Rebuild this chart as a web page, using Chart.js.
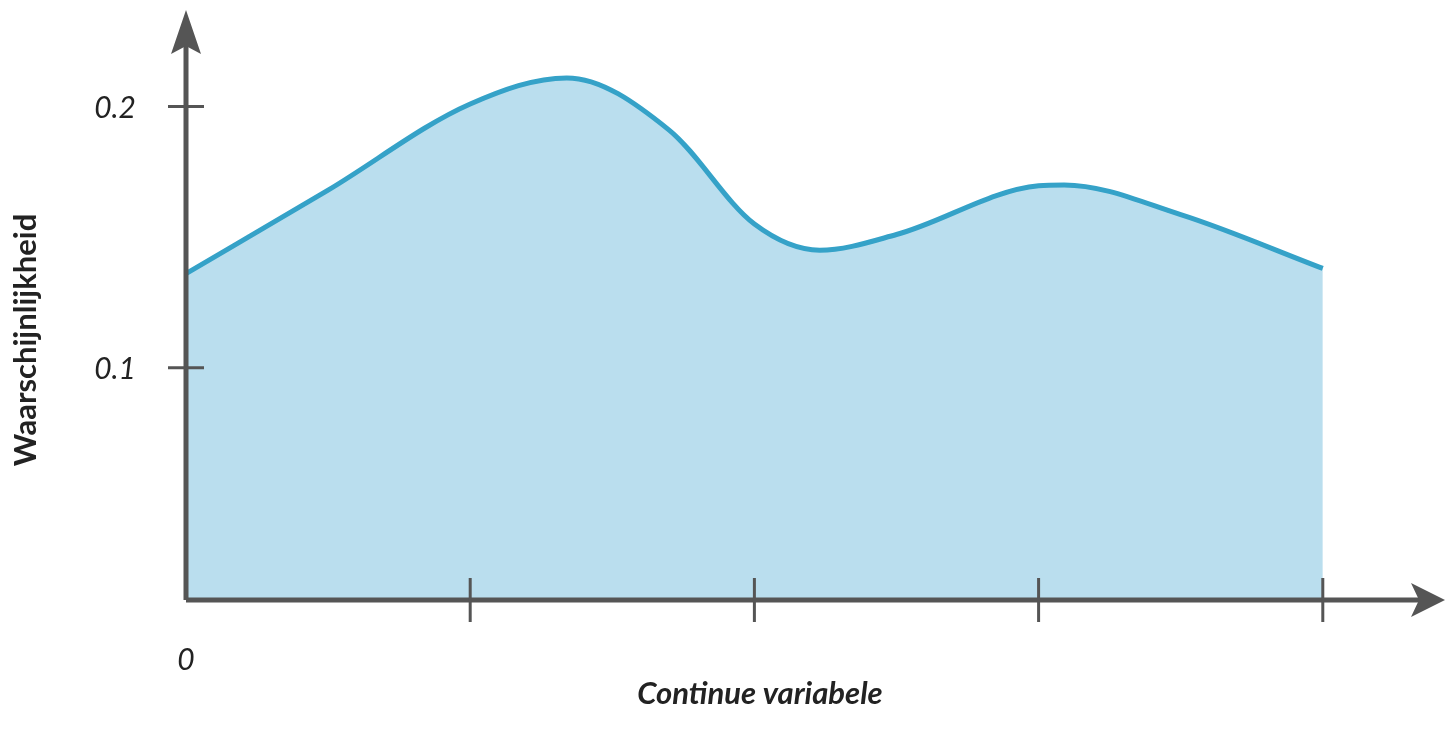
<!DOCTYPE html>
<html>
<head>
<meta charset="utf-8">
<script src="https://cdn.jsdelivr.net/npm/chart.js@4"></script>
<style>
  html, body { margin: 0; padding: 0; background: #fff; }
  #wrap { width: 1453px; height: 736px; }
</style>
</head>
<body>
<div id="wrap"><canvas id="dens"></canvas></div>
<script>
// curve (x in tick units, y = probability)
const xVals = [0, 0.5, 1, 1.34, 1.7, 2, 2.23, 2.5, 3, 3.09, 3.5, 4];
const yVals = [0.136, 0.168, 0.201, 0.211, 0.191, 0.155, 0.145, 0.151, 0.1697, 0.170, 0.1586, 0.138];
const xTicks = [1, 2, 3, 4];
const yTicks = [0.1, 0.2];
const yTickLabels = ['0.1', '0.2'];

const axisColor = '#555555';

const axesPlugin = {
  id: 'axes',
  afterDraw(chart) {
    const c = chart.ctx, xs = chart.scales.x, ys = chart.scales.y;
    const x0 = xs.getPixelForValue(0), yb = ys.getPixelForValue(ys.min);
    const xr = xs.right, yt = ys.top;
    c.save();
    c.strokeStyle = axisColor; c.fillStyle = axisColor; c.lineWidth = 5;
    // axes
    c.beginPath(); c.moveTo(x0, yb); c.lineTo(xr - 20, yb); c.stroke();
    c.beginPath(); c.moveTo(x0, yb); c.lineTo(x0, yt + 20); c.stroke();
    // arrows
    c.beginPath(); c.moveTo(xr, yb); c.lineTo(xr - 34, yb - 17); c.lineTo(xr - 26, yb); c.lineTo(xr - 34, yb + 17); c.closePath(); c.fill();
    c.beginPath(); c.moveTo(x0, yt); c.lineTo(x0 - 15, yt + 44); c.lineTo(x0, yt + 36); c.lineTo(x0 + 15, yt + 44); c.closePath(); c.fill();
    c.lineWidth = 3;
    xTicks.forEach(v => {
      const p = xs.getPixelForValue(v);
      c.beginPath(); c.moveTo(p, yb - 22); c.lineTo(p, yb + 22); c.stroke();
    });
    c.font = 'italic 30px Lato';
    c.fillStyle = '#222';
    c.textAlign = 'right'; c.textBaseline = 'middle';
    yTicks.forEach((v, i) => {
      const p = ys.getPixelForValue(v);
      c.beginPath(); c.moveTo(x0 - 18, p); c.lineTo(x0 + 18, p); c.stroke();
      c.fillText(yTickLabels[i], x0 - 50, p + 2);
    });
    c.textAlign = 'center';
    c.fillText('0', x0, 660);
    c.font = 'bold italic 31px Lato';
    c.fillText('Continue variabele', 760, 694);
    c.save();
    c.translate(26, 340); c.rotate(-Math.PI / 2);
    c.font = 'bold 31px Lato';
    c.fillText('Waarschijnlijkheid', 0, 0);
    c.restore();
    c.restore();
  }
};

new Chart(document.getElementById('dens'), {
  type: 'scatter',
  data: {
    datasets: [{
      data: xVals.map((x, i) => ({ x: x, y: yVals[i] })),
      showLine: true,
      tension: 0.4,
      cubicInterpolationMode: 'monotone',
      borderColor: '#35a2c8',
      borderWidth: 5,
      backgroundColor: 'rgba(167,213,233,0.78)',
      fill: 'start',
      pointRadius: 0
    }]
  },
  options: {
    responsive: true,
    maintainAspectRatio: false,
    animation: false,
    layout: { padding: { left: 186, right: 8, top: 10, bottom: 136 } },
    plugins: { legend: { display: false }, tooltip: { enabled: false } },
    scales: {
      x: { type: 'linear', min: 0, max: 4.43, display: false },
      y: { min: 0.011, max: 0.237, display: false }
    }
  },
  plugins: [axesPlugin]
});
</script>
</body>
</html>
